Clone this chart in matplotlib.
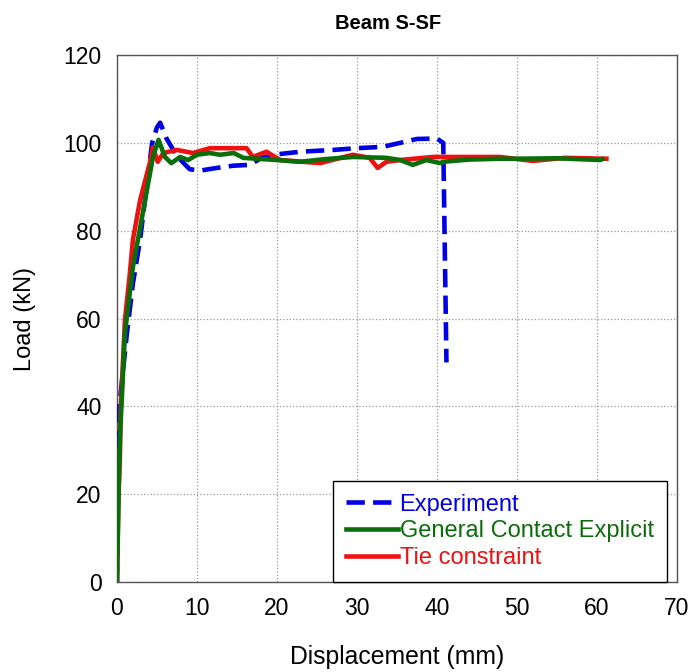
import matplotlib
matplotlib.use("Agg")
import matplotlib.pyplot as plt

plt.rcParams['font.family'] = ['Liberation Sans', 'DejaVu Sans']

exp_x = [0, 0.1, 0.3, 1.25, 2.0, 2.9, 3.7, 4.4, 5.0, 5.4, 6.2, 7.5, 9.1, 10.4, 12.5, 14.5, 16.6, 18.0, 19.5, 23.0, 27.0, 30.0, 33.2, 35.4, 37.5, 40.0, 40.8, 41.0, 41.2]
exp_y = [0, 30, 40, 56.7, 68, 78, 90, 100, 103.5, 104.6, 101, 97, 94, 93.7, 94.3, 94.8, 95, 96.5, 97.3, 98, 98.4, 98.8, 99.1, 100, 100.9, 101, 100, 75, 50]

gen_x = [0, 0.2, 0.4, 1.0, 2.0, 3.3, 4.5, 5.2, 6.0, 6.8, 7.9, 8.9, 10.0, 11.6, 12.9, 14.6, 15.8, 20.0, 22.9, 26.0, 29.5, 33.7, 35.4, 37.0, 38.7, 40.4, 40.8, 44.0, 47.9, 50.0, 55.0, 60.4, 60.7]
gen_y = [0, 20, 34, 56.7, 71.8, 84.7, 96.8, 100.7, 96.8, 95.4, 96.8, 96.1, 97.3, 97.7, 97.3, 97.7, 96.6, 96.1, 95.7, 96.3, 96.8, 96.6, 96.1, 95.0, 96.1, 95.4, 95.7, 96.2, 96.4, 96.4, 96.5, 96.1, 96.3]

tie_x = [0, 0.2, 0.37, 0.45, 1.0, 1.6, 2.0, 2.9, 4.1, 4.5, 5.1, 5.8, 7.5, 9.5, 11.6, 12.9, 16.2, 17.0, 18.7, 20.4, 25.4, 29.5, 31.6, 32.6, 33.7, 35.4, 39.5, 40.8, 47.9, 52.0, 56.0, 61.2]
tie_y = [0, 20, 28.5, 38.5, 59.7, 70, 78, 87, 95.4, 99, 95.7, 97.7, 98.4, 97.7, 98.8, 98.8, 98.8, 96.8, 98.0, 96.1, 95.4, 97.3, 96.6, 94.3, 95.7, 96.1, 96.8, 96.8, 96.8, 95.9, 96.6, 96.4]

x_ticks = [0, 10, 20, 30, 40, 50, 60, 70]
y_ticks = [0, 20, 40, 60, 80, 100, 120]

c_exp, c_gen, c_tie = '#0000e6', '#0a6e0a', '#ee1111'

fig = plt.figure(figsize=(6.92, 6.72), dpi=100)
ax = fig.add_axes([0.169, 0.134, 0.809, 0.784])

ax.plot(exp_x, exp_y, color=c_exp, lw=3.3, ls=(0, (4, 1.8)), label='Experiment', zorder=3)
ax.plot(gen_x, gen_y, color=c_gen, lw=3.3, label='General Contact Explicit', zorder=3.2)
ax.plot(tie_x, tie_y, color=c_tie, lw=3.3, label='Tie constraint', zorder=3.1)

ax.set_xlim(0, 70)
ax.set_ylim(0, 120)
ax.set_xticks(x_ticks)
ax.set_yticks(y_ticks)
ax.tick_params(labelsize=16.5, length=0, pad=11)
ax.grid(True, color='#999999', ls=':', lw=0.9)
for s in ax.spines.values():
    s.set_color('#555555')
    s.set_linewidth(1.0)

ax.set_title('Beam S-SF', fontsize=14.5, fontweight='bold', pad=19, x=0.484)
ax.set_xlabel('Displacement (mm)', fontsize=17.8, labelpad=18)
ax.set_ylabel('Load (kN)', fontsize=17, labelpad=20)

leg = ax.legend(loc='lower right', bbox_to_anchor=(0.982, 0.0), fontsize=17,
                fancybox=False, edgecolor='black', framealpha=1,
                handlelength=2.2, handletextpad=0.05, borderpad=0.55,
                labelspacing=0.2, borderaxespad=0)
leg.get_frame().set_linewidth(1.0)
for t, c in zip(leg.get_texts(), [c_exp, c_gen, c_tie]):
    t.set_color(c)

fig.savefig('out.png', dpi=100)
